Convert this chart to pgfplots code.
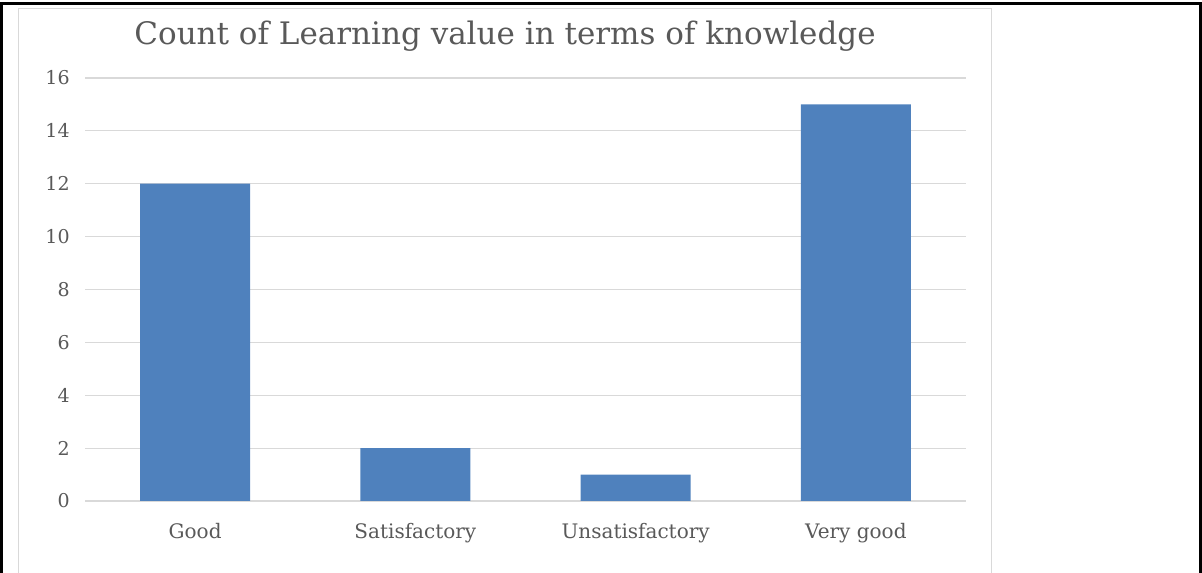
\documentclass[border=0pt]{standalone}
\usepackage{fontspec}
\setmainfont{DejaVu Serif}
\usepackage{pgfplots}
\pgfplotsset{compat=1.18}

\definecolor{barblue}{RGB}{79,129,189}
\definecolor{gridgray}{RGB}{217,217,217}
\definecolor{textgray}{RGB}{89,89,89}

% 1 px of the reference = 0.5pt; page = 601pt x 286pt
\begin{document}
\begin{tikzpicture}
  \useasboundingbox (0,0) rectangle (601pt,286pt);
  % outer black frame (open at the bottom)
  \draw[black, line width=1.5pt] (0.75pt,-5pt) -- (0.75pt,284.25pt) -- (600pt,284.25pt) -- (600pt,-5pt);
  % chart area border
  \draw[gridgray, line width=0.6pt] (9.25pt,-5pt) -- (9.25pt,281.75pt) -- (495.75pt,281.75pt) -- (495.75pt,-5pt);

  \node[anchor=base, font=\fontsize{15.5}{17}\selectfont, text=textgray]
    at (252.5pt,263.5pt) {Count of Learning value in terms of knowledge};

  \begin{axis}[
      at={(42.5pt,35.5pt)}, anchor=south west,
      scale only axis,
      width=440.5pt, height=211.5pt,
      xmin=-0.5, xmax=3.5,
      ymin=0, ymax=16,
      ytick={0,2,...,16},
      xtick={0,1,2,3},
      xticklabels={Good,Satisfactory,Unsatisfactory,Very good},
      axis line style={draw=none},
      major tick length=0pt,
      ymajorgrids,
      major grid style={gridgray, line width=0.6pt},
      tick label style={text=textgray},
      /pgf/number format/assume math mode=true,
      yticklabel style={font=\fontsize{9.5}{11}\selectfont, anchor=east, inner sep=0pt, xshift=-7.5pt},
      xticklabel style={font=\fontsize{10}{12}\selectfont, anchor=base, inner sep=0pt, yshift=-18.5pt},
      ybar, bar width=55pt,
    ]
    \addplot[fill=barblue, draw=none] coordinates {
      (0,12) (1,2) (2,1) (3,15)
    };
  \end{axis}
\end{tikzpicture}
\end{document}
